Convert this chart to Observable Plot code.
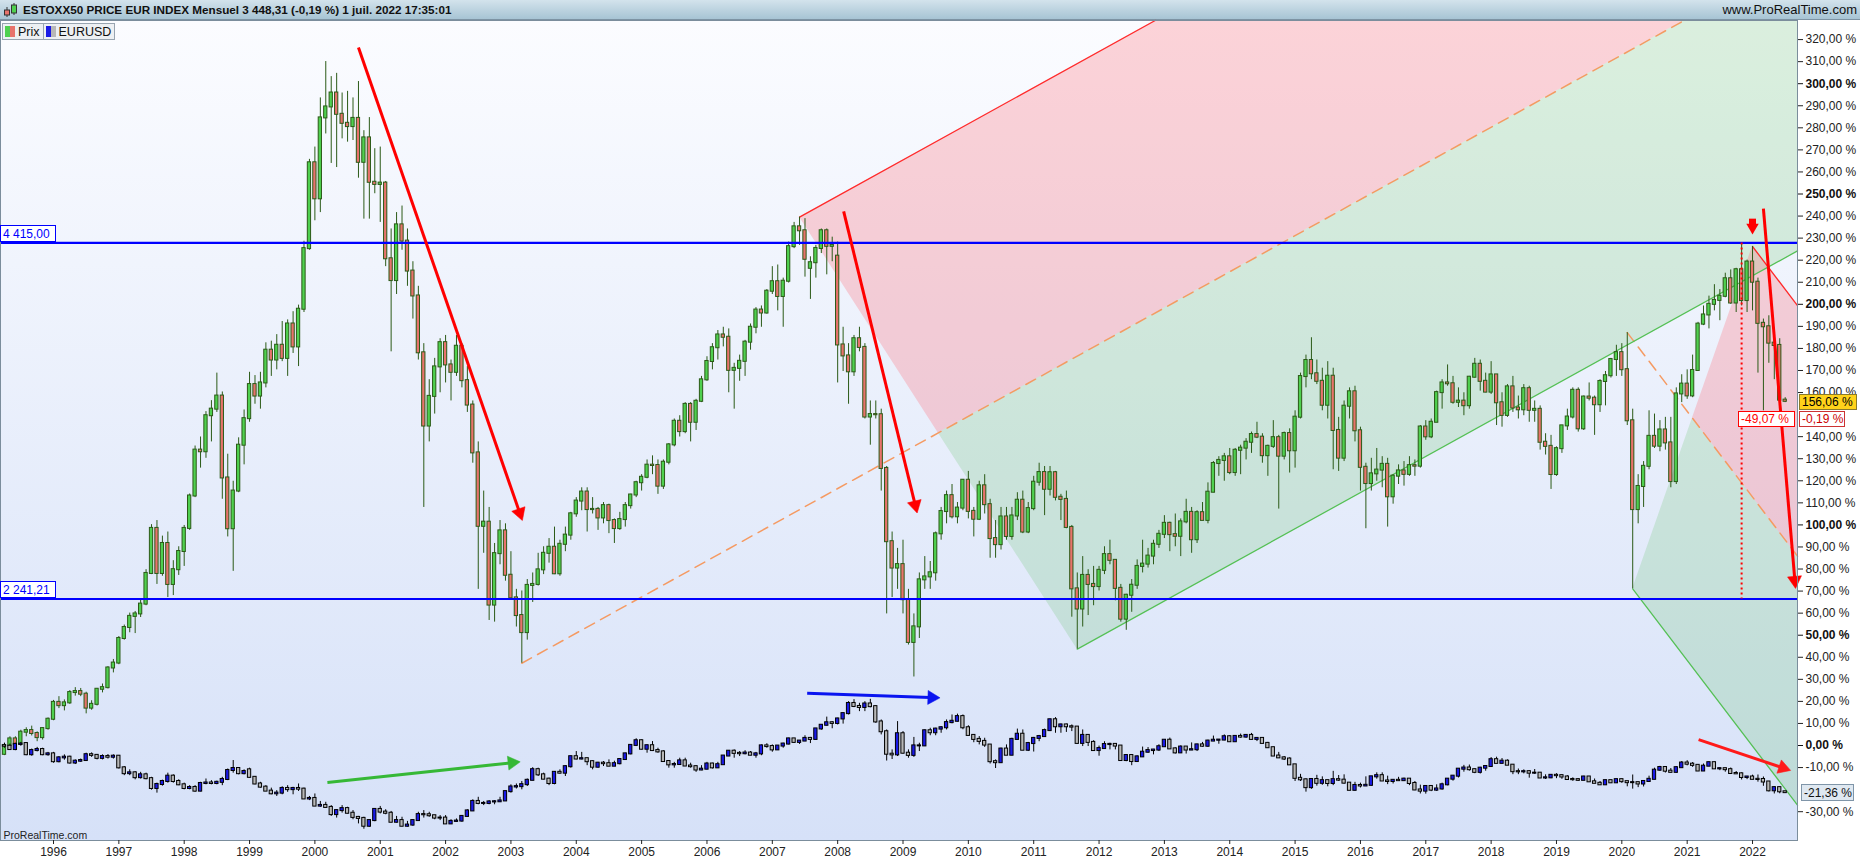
<!DOCTYPE html>
<html lang="fr">
<head>
<meta charset="utf-8">
<script src="https://cdn.jsdelivr.net/npm/d3@7"></script>
<script src="https://cdn.jsdelivr.net/npm/@observablehq/plot@0.6"></script>
<style>
html,body{margin:0;padding:0;background:#fff;}
body{width:1860px;height:860px;position:relative;overflow:hidden;font-family:"Liberation Sans",Arial,sans-serif;}
#header{position:absolute;left:0;top:0;width:1860px;height:20px;box-sizing:border-box;background:linear-gradient(#d3e3ec,#a7c4d4);border-bottom:1px solid #7d93a3;}
#header .title{position:absolute;left:23px;top:3px;font-size:11.7px;font-weight:bold;color:#111;white-space:nowrap;}
#header .site{position:absolute;right:3px;top:2px;font-size:13px;color:#111;}
#header svg{position:absolute;left:3px;top:2px;}
#plotbg{position:absolute;left:0;top:20px;width:1797px;height:820px;background:linear-gradient(#fbfcff,#d6e1f8);}
#chart{position:absolute;left:0;top:20px;}
#legend{position:absolute;left:2px;top:23px;display:flex;}
.lg{display:flex;align-items:center;height:15px;border:1px solid #98a4b0;background:#edf0f3;font-size:12.5px;color:#111;padding:0 3px 0 2px;margin-right:-1px;}
.lg i{display:inline-block;width:10px;height:11px;margin-right:3px;}
</style>
</head>
<body>
<div id="header">
  <svg width="16" height="16" viewBox="0 0 16 16">
    <line x1="4" y1="5" x2="4" y2="15" stroke="#333"/><rect x="1.5" y="8" width="5" height="5" fill="#e8736c" stroke="#333"/>
    <line x1="11" y1="1" x2="11" y2="13" stroke="#333"/><rect x="8.5" y="3" width="5" height="8" fill="#4fd04f" stroke="#333"/>
  </svg>
  <span class="title">ESTOXX50 PRICE EUR INDEX Mensuel 3 448,31 (-0,19 %) 1 juil. 2022 17:35:01</span>
  <span class="site">www.ProRealTime.com</span>
</div>
<div id="plotbg"></div>
<div id="chart"></div>
<div id="legend">
  <span class="lg"><i style="background:linear-gradient(90deg,#4fd04f 50%,#e8736c 50%)"></i>Prix</span>
  <span class="lg"><i style="background:linear-gradient(90deg,#1a1ae6 50%,#b8b8b8 50%)"></i>EURUSD</span>
</div>
<script>
// ---------- DATA ----------
// month index: 0 = January 1996; first bar = April 1995
const firstMonth = -9;
const basePrix = 1346.7;     // ESTOXX50 level shown as 0,00 %
const baseEURUSD = 1.3263;   // EURUSD level shown as 0,00 %

const esxOpen = [
1293,1347,1387,1354,1428,1438,1420,1395,1450,
1507,1610,1590,1607,1670,1676,1660,1575,1598,1690,1700,1820,
1850,2000,2067,2135,2150,2210,2397,2672,2397,2580,2330,2420,
2531,2672,2870,3150,3140,3360,3400,3480,2980,2670,2900,3180,
3342,3550,3480,3560,3760,3700,3790,3710,3920,3780,4010,4380,
4904,4684,5178,5245,5330,5200,5145,5125,5175,4907,5056,4785,
4772,4780,4318,4185,4525,4426,4243,4091,3744,3297,3478,3658,
3806,3670,3625,3784,3574,3425,3133,2685,2710,2204,2518,2657,
2386,2248,2140,2036,2324,2330,2419,2520,2557,2395,2575,2631,
2761,2839,2894,2787,2788,2736,2811,2720,2671,2726,2811,2876,
2951,2984,3058,3056,2930,3076,3182,3326,3263,3429,3320,3448,
3579,3691,3775,3853,3839,3637,3649,3692,3809,3900,4005,3987,
4120,4178,4088,4181,4392,4513,4489,4260,4294,4381,4489,4394,
4334,3792,3725,3628,3830,3777,3352,3367,3366,3038,2591,2430,
2451,2237,1976,2071,2358,2376,2401,2639,2775,2872,2743,2796,
2966,2776,2728,2932,2817,2610,2573,2742,2623,2748,2844,2650,
2793,2954,3013,2911,3012,2862,2849,2678,2303,2180,2385,2330,
2317,2416,2512,2477,2306,2118,2264,2325,2440,2454,2503,2575,
2636,2703,2634,2624,2712,2770,2603,2768,2721,2893,3068,3087,
3109,3013,3149,3162,3198,3245,3229,3116,3173,3226,3113,3251,
3146,3351,3599,3697,3616,3570,3424,3601,3270,3101,3418,3506,
3268,3045,2946,3005,3028,3063,2865,2991,3023,3002,3055,3052,
3291,3231,3320,3501,3560,3555,3442,3449,3421,3595,3674,3570,
3504,3609,3439,3362,3536,3407,3396,3525,3393,3399,3198,3173,
3001,3159,3298,3352,3515,3280,3474,3467,3427,3569,3604,3703,
3745,3641,3329,2787,2928,3051,3234,3174,3273,3194,2958,3493,
3553,3481,3636,3919,3975,4040,4064,4089,4196,4048,4251,4063,
4298,4175,3924,3903,3803,3789,3455
];
const esxHigh = [
1360,1400,1400,1440,1455,1465,1430,1455,1515,
1622,1645,1625,1682,1700,1695,1672,1620,1695,1722,1828,1872,
2012,2082,2155,2165,2232,2420,2695,2720,2625,2650,2475,2560,
2690,2882,3175,3230,3385,3452,3620,3505,3125,2960,3225,3395,
3625,3605,3625,3805,3815,3855,3935,3945,3995,4035,4425,4925,
5000,5300,5522,5430,5450,5330,5340,5300,5400,5100,5180,4990,
5000,4790,4500,4600,4640,4500,4300,4150,3800,3580,3710,3830,
3850,3700,3850,3800,3660,3450,3200,2900,2800,2580,2720,2700,
2530,2300,2290,2360,2400,2520,2560,2610,2680,2600,2680,2770,
2860,2920,2920,2860,2800,2830,2820,2730,2770,2830,2880,2960,
3000,3090,3115,3090,3090,3190,3340,3360,3440,3440,3460,3600,
3720,3800,3880,3900,3890,3680,3730,3820,3920,4020,4030,4130,
4270,4280,4200,4420,4540,4572,4563,4330,4400,4500,4500,4450,
4420,3900,3800,3850,3900,3800,3450,3450,3400,3050,2650,2550,
2600,2300,2150,2400,2500,2470,2650,2800,2900,2940,2830,2970,
3020,2800,2960,3000,2850,2720,2800,2800,2800,2890,2900,2830,
2990,3070,3050,3050,3020,2880,2900,2690,2400,2500,2420,2440,
2440,2560,2600,2480,2330,2270,2360,2480,2600,2550,2600,2660,
2750,2710,2760,2730,2850,2800,2780,2830,2950,3080,3110,3130,
3160,3160,3180,3220,3260,3320,3250,3180,3330,3240,3260,3280,
3390,3620,3730,3836,3700,3650,3690,3650,3350,3450,3530,3540,
3290,3070,3100,3160,3110,3100,3000,3060,3080,3110,3090,3300,
3330,3340,3510,3580,3670,3600,3530,3500,3600,3710,3700,3620,
3690,3610,3500,3550,3600,3480,3550,3540,3450,3420,3250,3240,
3170,3300,3400,3530,3530,3480,3560,3480,3580,3630,3710,3790,
3800,3867,3400,3000,3080,3390,3370,3330,3350,3350,3530,3610,
3640,3730,3930,4030,4090,4160,4130,4230,4250,4260,4415,4310,
4393,4200,3950,3970,3870,3830,3470
];
const esxLow = [
1285,1335,1335,1350,1400,1405,1370,1380,1440,
1498,1572,1558,1598,1648,1645,1540,1562,1588,1668,1692,1790,
1840,1990,2035,2030,2128,2200,2390,2330,2380,2250,2262,2385,
2440,2660,2860,3040,3100,3200,3380,2850,2620,2410,2890,3060,
3320,3430,3400,3530,3600,3640,3690,3600,3740,3660,3990,4370,
4550,4600,5080,4900,4875,5050,5030,5040,4810,4560,4560,4715,
4540,4270,3750,4100,4370,4150,3950,3700,2800,3200,3370,3500,
3560,3450,3600,3530,3380,3070,2300,2520,2110,2100,2450,2350,
2240,2070,1849,1990,2220,2320,2390,2460,2390,2380,2530,2600,
2740,2780,2650,2760,2660,2700,2640,2580,2660,2680,2790,2860,
2900,2975,3000,2880,2910,3060,3170,3230,3250,3200,3270,3440,
3570,3640,3700,3780,3500,3400,3570,3600,3760,3860,3900,3980,
4100,4000,3900,4170,4380,4400,4206,4070,4200,4350,4220,4300,
3560,3630,3430,3600,3750,3340,3180,3340,2900,2150,2250,2300,
2150,1960,1765,2000,2300,2300,2350,2600,2700,2730,2700,2780,
2730,2620,2720,2760,2490,2490,2540,2600,2600,2720,2640,2640,
2780,2930,2750,2870,2840,2720,2670,2130,1935,2070,2140,2200,
2290,2390,2450,2230,2100,2050,2160,2300,2400,2430,2450,2550,
2610,2530,2560,2500,2700,2520,2580,2720,2700,2890,2990,2960,
3000,2990,3000,3090,3130,3220,3070,2990,3160,2790,3090,3010,
3040,3340,3530,3580,3550,3390,3340,3030,3020,3080,3340,3200,
2900,2670,2900,2960,2920,2680,2820,2940,2930,2990,2990,3040,
3210,3220,3320,3400,3540,3430,3410,3360,3400,3590,3510,3500,
3490,3300,3290,3350,3380,3340,3360,3320,3320,3150,3120,2910,
2990,3130,3270,3340,3260,3270,3450,3240,3380,3420,3590,3600,
3600,3300,2303,2700,2800,3030,3160,3140,3150,2920,2940,3440,
3460,3470,3630,3910,3890,4000,3940,4080,4040,3990,4030,3990,
4000,3620,3390,3680,3580,3430,3440
];
const esxClose = [
1347,1387,1354,1428,1438,1420,1395,1450,1507,
1610,1590,1607,1670,1676,1660,1575,1598,1690,1700,1820,1850,
2000,2067,2135,2150,2210,2397,2672,2397,2580,2330,2420,2531,
2672,2870,3150,3140,3360,3400,3480,2980,2670,2900,3180,3342,
3550,3480,3560,3760,3700,3790,3710,3920,3780,4010,4380,4904,
4684,5178,5245,5330,5200,5145,5125,5175,4907,5056,4785,4772,
4780,4318,4185,4525,4426,4243,4091,3744,3297,3478,3658,3806,
3670,3625,3784,3574,3425,3133,2685,2710,2204,2518,2657,2386,
2248,2140,2036,2324,2330,2419,2520,2557,2395,2575,2631,2761,
2839,2894,2787,2788,2736,2811,2720,2671,2726,2811,2876,2951,
2984,3058,3056,2930,3076,3182,3326,3263,3429,3320,3448,3579,
3691,3775,3853,3839,3637,3649,3692,3809,3900,4005,3987,4120,
4178,4088,4181,4392,4513,4489,4315,4294,4381,4489,4394,4400,
3792,3725,3628,3830,3777,3352,3367,3366,3038,2591,2430,2451,
2237,1976,2071,2358,2376,2401,2639,2775,2872,2743,2796,2966,
2776,2728,2932,2817,2610,2573,2742,2623,2748,2844,2650,2793,
2954,3013,2911,3012,2862,2849,2678,2303,2180,2385,2330,2317,
2416,2512,2477,2306,2118,2264,2325,2440,2454,2503,2575,2636,
2703,2634,2624,2712,2770,2603,2768,2721,2893,3068,3087,3109,
3013,3149,3162,3198,3245,3229,3116,3173,3226,3113,3251,3146,
3351,3599,3697,3616,3570,3424,3601,3270,3101,3418,3506,3268,
3045,2946,3005,3028,3063,2865,2991,3023,3002,3055,3052,3291,
3231,3320,3501,3560,3555,3442,3449,3421,3595,3674,3570,3504,
3609,3439,3362,3536,3407,3396,3525,3393,3399,3198,3173,3001,
3159,3298,3352,3515,3280,3474,3467,3427,3569,3604,3703,3745,
3641,3329,2787,2928,3051,3234,3174,3273,3194,2958,3493,3553,
3481,3636,3919,3975,4040,4064,4089,4196,4048,4251,4063,4298,
4175,3924,3903,3803,3789,3455,3448
];

const eurOpen = [
1.325,1.322,1.302,1.333,1.338,1.271,1.296,1.302,1.271,
1.276,1.229,1.252,1.256,1.221,1.232,1.236,1.271,1.267,1.249,1.260,1.256,
1.262,1.192,1.157,1.162,1.133,1.150,1.127,1.068,1.092,1.110,1.142,1.110,
1.090,1.068,1.074,1.052,1.098,1.101,1.098,1.105,1.122,1.176,1.188,1.157,
1.180,1.135,1.095,1.076,1.052,1.036,1.040,1.068,1.061,1.068,1.064,1.005,
1.008,0.962,0.966,0.954,0.911,0.935,0.947,0.919,0.894,0.888,0.841,0.875,
0.942,0.926,0.919,0.865,0.875,0.841,0.848,0.875,0.911,0.910,0.904,0.890,
0.890,0.855,0.870,0.872,0.900,0.933,0.990,0.978,0.978,0.987,0.988,0.993,
1.049,1.077,1.079,1.091,1.117,1.181,1.150,1.124,1.098,1.165,1.160,1.199,
1.259,1.245,1.247,1.229,1.196,1.220,1.217,1.202,1.217,1.242,1.276,1.327,
1.355,1.304,1.325,1.296,1.288,1.230,1.210,1.212,1.234,1.203,1.199,1.179,
1.184,1.215,1.192,1.211,1.263,1.292,1.279,1.277,1.281,1.268,1.276,1.324,
1.320,1.300,1.323,1.335,1.366,1.345,1.353,1.369,1.363,1.426,1.448,1.463,
1.459,1.486,1.518,1.579,1.561,1.555,1.576,1.560,1.468,1.409,1.274,1.270,
1.397,1.280,1.267,1.324,1.324,1.415,1.403,1.425,1.433,1.464,1.472,1.500,
1.433,1.387,1.363,1.351,1.329,1.229,1.223,1.305,1.268,1.363,1.394,1.298,
1.338,1.369,1.380,1.416,1.481,1.439,1.450,1.439,1.437,1.339,1.387,1.345,
1.296,1.308,1.332,1.333,1.323,1.236,1.266,1.230,1.258,1.286,1.296,1.299,
1.319,1.358,1.306,1.282,1.317,1.299,1.301,1.330,1.322,1.353,1.358,1.359,
1.379,1.349,1.381,1.377,1.387,1.363,1.369,1.339,1.313,1.263,1.252,1.245,
1.210,1.129,1.120,1.073,1.122,1.099,1.115,1.098,1.121,1.118,1.100,1.057,
1.086,1.083,1.087,1.138,1.145,1.113,1.110,1.117,1.115,1.124,1.098,1.059,
1.052,1.080,1.058,1.065,1.090,1.124,1.142,1.184,1.191,1.181,1.165,1.190,
1.200,1.241,1.219,1.232,1.208,1.169,1.168,1.169,1.160,1.160,1.131,1.132,
1.147,1.145,1.137,1.122,1.121,1.117,1.137,1.108,1.099,1.090,1.115,1.102,
1.121,1.109,1.103,1.103,1.095,1.110,1.123,1.178,1.194,1.172,1.165,1.193,
1.221,1.214,1.207,1.173,1.202,1.223,1.186,1.187,1.181,1.158,1.156,1.134,
1.137,1.123,1.122,1.107,1.054,1.073,1.048
];
const eurHigh = [
1.340,1.335,1.340,1.345,1.342,1.305,1.315,1.310,1.285,
1.285,1.260,1.270,1.262,1.240,1.245,1.280,1.282,1.272,1.270,1.272,1.270,
1.266,1.200,1.180,1.170,1.165,1.160,1.135,1.100,1.118,1.160,1.150,1.120,
1.100,1.085,1.085,1.105,1.125,1.115,1.112,1.135,1.185,1.236,1.192,1.180,
1.190,1.140,1.105,1.085,1.070,1.055,1.078,1.085,1.075,1.095,1.070,1.020,
1.035,0.990,0.985,0.965,0.940,0.965,0.955,0.935,0.900,0.895,0.880,0.945,
0.960,0.940,0.930,0.900,0.895,0.870,0.880,0.925,0.935,0.925,0.905,0.905,
0.905,0.880,0.885,0.905,0.940,1.000,1.015,0.990,0.995,0.995,1.015,1.050,
1.090,1.095,1.110,1.125,1.193,1.190,1.160,1.130,1.170,1.180,1.205,1.262,
1.290,1.285,1.250,1.235,1.225,1.230,1.240,1.232,1.245,1.280,1.330,1.367,
1.360,1.330,1.350,1.310,1.295,1.235,1.225,1.250,1.250,1.220,1.205,1.205,
1.225,1.220,1.225,1.265,1.295,1.300,1.290,1.295,1.290,1.285,1.330,1.337,
1.330,1.325,1.340,1.370,1.368,1.355,1.385,1.375,1.427,1.450,1.497,1.470,
1.490,1.520,1.590,1.602,1.580,1.590,1.604,1.565,1.480,1.420,1.300,1.470,
1.410,1.300,1.375,1.340,1.420,1.430,1.430,1.440,1.480,1.510,1.515,1.510,
1.445,1.390,1.380,1.370,1.330,1.240,1.310,1.330,1.370,1.425,1.420,1.345,
1.375,1.387,1.425,1.485,1.494,1.455,1.455,1.450,1.440,1.420,1.390,1.355,
1.323,1.349,1.340,1.338,1.325,1.270,1.268,1.264,1.317,1.314,1.303,1.331,
1.362,1.371,1.313,1.324,1.320,1.342,1.334,1.345,1.358,1.383,1.361,1.390,
1.385,1.384,1.395,1.392,1.399,1.372,1.370,1.345,1.316,1.285,1.260,1.252,
1.212,1.153,1.125,1.125,1.147,1.138,1.115,1.171,1.146,1.150,1.103,1.105,
1.100,1.138,1.140,1.162,1.162,1.142,1.120,1.135,1.130,1.125,1.110,1.088,
1.082,1.083,1.090,1.100,1.126,1.145,1.185,1.207,1.209,1.185,1.195,1.204,
1.254,1.256,1.248,1.240,1.210,1.185,1.180,1.175,1.182,1.164,1.150,1.150,
1.157,1.149,1.145,1.132,1.127,1.141,1.140,1.125,1.110,1.118,1.115,1.124,
1.124,1.110,1.149,1.105,1.114,1.142,1.190,1.201,1.197,1.188,1.200,1.230,
1.235,1.224,1.211,1.215,1.227,1.227,1.191,1.190,1.191,1.170,1.162,1.138,
1.148,1.149,1.137,1.108,1.079,1.077,1.049
];
const eurLow = [
1.310,1.298,1.295,1.322,1.265,1.262,1.288,1.265,1.262,
1.220,1.222,1.238,1.215,1.212,1.225,1.230,1.255,1.240,1.240,1.245,1.245,
1.185,1.145,1.145,1.120,1.125,1.120,1.058,1.040,1.082,1.100,1.100,1.085,
1.060,1.060,1.045,1.048,1.090,1.090,1.090,1.085,1.115,1.160,1.150,1.150,
1.130,1.090,1.070,1.050,1.030,1.020,1.030,1.045,1.030,1.050,1.003,0.995,
0.960,0.955,0.953,0.900,0.890,0.920,0.915,0.880,0.855,0.823,0.835,0.868,
0.915,0.910,0.862,0.860,0.838,0.836,0.840,0.870,0.890,0.895,0.880,0.875,
0.852,0.852,0.865,0.865,0.895,0.930,0.970,0.965,0.970,0.970,0.985,0.990,
1.040,1.065,1.060,1.080,1.115,1.140,1.120,1.085,1.090,1.155,1.140,1.190,
1.240,1.240,1.205,1.180,1.190,1.200,1.200,1.200,1.210,1.240,1.270,1.320,
1.300,1.280,1.290,1.280,1.228,1.190,1.190,1.210,1.200,1.190,1.165,1.175,
1.180,1.185,1.190,1.210,1.260,1.250,1.260,1.270,1.265,1.250,1.265,1.310,
1.286,1.297,1.310,1.330,1.340,1.333,1.351,1.338,1.360,1.418,1.444,1.427,
1.450,1.455,1.510,1.554,1.530,1.530,1.553,1.460,1.390,1.233,1.242,1.260,
1.275,1.250,1.255,1.290,1.320,1.385,1.385,1.400,1.420,1.457,1.468,1.421,
1.386,1.343,1.330,1.315,1.215,1.188,1.220,1.266,1.265,1.360,1.296,1.290,
1.287,1.349,1.379,1.410,1.400,1.400,1.405,1.410,1.335,1.320,1.320,1.293,
1.262,1.307,1.300,1.300,1.235,1.229,1.205,1.228,1.256,1.280,1.270,1.290,
1.317,1.305,1.275,1.278,1.275,1.296,1.290,1.316,1.315,1.350,1.334,1.355,
1.348,1.347,1.370,1.370,1.360,1.350,1.337,1.310,1.260,1.250,1.236,1.208,
1.110,1.110,1.046,1.063,1.082,1.087,1.078,1.085,1.110,1.094,1.055,1.052,
1.071,1.081,1.082,1.124,1.110,1.091,1.095,1.111,1.112,1.085,1.055,1.035,
1.034,1.049,1.050,1.058,1.084,1.112,1.131,1.166,1.172,1.157,1.155,1.172,
1.195,1.217,1.216,1.207,1.151,1.151,1.156,1.130,1.152,1.130,1.122,1.127,
1.127,1.123,1.118,1.111,1.111,1.116,1.105,1.097,1.088,1.089,1.098,1.098,
1.099,1.078,1.064,1.073,1.077,1.108,1.121,1.171,1.161,1.162,1.160,1.192,
1.204,1.195,1.170,1.170,1.199,1.184,1.175,1.166,1.156,1.152,1.119,1.121,
1.121,1.106,1.081,1.047,1.035,1.036,1.040
];
const eurClose = [
1.322,1.302,1.333,1.335,1.271,1.296,1.302,1.271,1.276,
1.229,1.252,1.256,1.221,1.232,1.236,1.271,1.267,1.249,1.260,1.256,1.262,
1.192,1.157,1.162,1.133,1.150,1.127,1.068,1.092,1.110,1.142,1.110,1.090,
1.068,1.074,1.052,1.098,1.101,1.098,1.105,1.122,1.176,1.188,1.157,1.170,
1.135,1.095,1.076,1.052,1.036,1.040,1.068,1.061,1.068,1.064,1.005,1.008,
0.962,0.966,0.954,0.911,0.935,0.947,0.919,0.894,0.888,0.841,0.875,0.942,
0.926,0.919,0.865,0.875,0.841,0.848,0.875,0.911,0.910,0.904,0.890,0.890,
0.855,0.870,0.872,0.900,0.933,0.990,0.978,0.978,0.987,0.988,0.993,1.049,
1.077,1.079,1.091,1.117,1.181,1.150,1.124,1.098,1.165,1.160,1.199,1.259,
1.245,1.247,1.229,1.196,1.220,1.217,1.202,1.217,1.242,1.276,1.327,1.355,
1.304,1.325,1.296,1.288,1.230,1.210,1.212,1.234,1.203,1.199,1.179,1.184,
1.215,1.192,1.211,1.263,1.292,1.279,1.277,1.281,1.268,1.276,1.324,1.320,
1.300,1.323,1.335,1.366,1.345,1.353,1.369,1.363,1.426,1.448,1.463,1.459,
1.486,1.518,1.579,1.561,1.555,1.576,1.560,1.468,1.409,1.274,1.270,1.397,
1.280,1.267,1.324,1.324,1.415,1.403,1.425,1.433,1.464,1.472,1.500,1.433,
1.387,1.363,1.351,1.329,1.229,1.223,1.305,1.268,1.363,1.394,1.298,1.338,
1.369,1.380,1.416,1.481,1.439,1.450,1.439,1.437,1.339,1.387,1.345,1.296,
1.308,1.332,1.333,1.323,1.236,1.266,1.230,1.258,1.286,1.296,1.299,1.319,
1.358,1.306,1.282,1.317,1.299,1.301,1.330,1.322,1.353,1.358,1.359,1.379,
1.349,1.381,1.377,1.387,1.363,1.369,1.339,1.313,1.263,1.252,1.245,1.210,
1.129,1.120,1.073,1.122,1.099,1.115,1.098,1.121,1.118,1.100,1.057,1.086,
1.083,1.087,1.138,1.145,1.113,1.110,1.117,1.115,1.124,1.098,1.059,1.052,
1.080,1.058,1.065,1.090,1.124,1.142,1.184,1.191,1.181,1.165,1.190,1.200,
1.241,1.219,1.232,1.208,1.169,1.168,1.169,1.160,1.160,1.131,1.132,1.147,
1.145,1.137,1.122,1.121,1.117,1.137,1.108,1.099,1.090,1.115,1.102,1.121,
1.109,1.103,1.103,1.095,1.110,1.123,1.178,1.194,1.172,1.165,1.193,1.221,
1.214,1.207,1.173,1.202,1.223,1.186,1.187,1.181,1.158,1.156,1.134,1.137,
1.123,1.122,1.107,1.054,1.073,1.048,1.043
];

// horizontal support / resistance levels (index points)
const levels = [4415.00, 2241.21];
const levelLabels = ["4 415,00", "2 241,21"];

// parallel channels: anchors [month index, index points], slope in % per month
const channel1 = {top: [137, 4572], median: [86, 1849], bottom: [188, 1935], slope: 1.365};
const channel2 = {top: [312, 4393], median: [289, 3867], bottom: [290, 2303], slope: -3.24};

// vertical dotted measure (Nov 2021) between the two levels
const measureMonth = 310;

// hand-drawn arrows [month, %] -> [month, %]
const arrows = [
  {m1: 56.0,  p1: 316.4, m2: 86.1,  p2: 102.0, color: "#ff0000"},
  {m1: 145.1, p1: 242.1, m2: 158.6, p2: 105.4, color: "#ff0000"},
  {m1: 138.4, p1: 23.7,  m2: 162.8, p2: 21.6,  color: "#0a14f0"},
  {m1: 50.3,  p1: -16.8, m2: 85.7,  p2: -7.4,  color: "#36b836"},
  {m1: 302.1, p1: 2.7,   m2: 319.0, p2: -11.3, color: "#ff1a1a"},
  {m1: 314.0, p1: 243.4, m2: 319.9, p2: 71.2,  color: "#ff0000"}
];
const downArrow = {m: 312, top: 238.6, tip: 231.6};

// axis (labels hidden under the value tags are left out, as in the original)
const pctTicks = d3.range(-30, 321, 10).filter(d => d !== 150 && d !== -20);
const yearTicks = d3.range(0, 313, 12);
const xDomain = [-9.733, 320.26];
const yDomain = [-43.06, 328.65];

// value tags on the right scale
const lastPrix = {value: 156.06, text: "156,06 %"};
const lastVar = {text: "-0,19 %"};
const measureTag = {text: "-49,07 %"};
const lastEur = {value: -21.36, text: "-21,36 %"};

// ---------- BUILD ----------
[esxOpen, esxHigh, esxLow, eurOpen, eurHigh, eurLow, eurClose].forEach((a, k) => {
  if (a.length !== esxClose.length) throw new Error("length mismatch " + k + ": " + a.length + " vs " + esxClose.length);
});
const pctP = v => (v / basePrix - 1) * 100;
const pctE = v => (v / baseEURUSD - 1) * 100;
const prix = esxClose.map((c, i) => ({m: firstMonth + i, o: pctP(esxOpen[i]), h: pctP(esxHigh[i]), l: pctP(esxLow[i]), c: pctP(c)}));
const eur = eurClose.map((c, i) => ({m: firstMonth + i, o: pctE(eurOpen[i]), h: pctE(eurHigh[i]), l: pctE(eurLow[i]), c: pctE(c)}));

const X1 = xDomain[1], YMAX = yDomain[1];
function geom(ch) {
  const s = ch.slope;
  const A = [ch.top[0], pctP(ch.top[1])], M = [ch.median[0], pctP(ch.median[1])], B = [ch.bottom[0], pctP(ch.bottom[1])];
  const ln = P => m => P[1] + s * (m - P[0]);
  const red = ln(A), mid = ln(M), grn = ln(B);
  const dk = (B[1] - A[1]) / (B[0] - A[0]);
  const dm = (A[1] - dk * A[0] - M[1] + s * M[0]) / (s - dk);
  const D = [dm, mid(dm)];
  return {A, M, B, D, red, mid, grn, s};
}
const g1 = geom(channel1), g2 = geom(channel2);
const mR1 = g1.A[0] + (YMAX - g1.A[1]) / g1.s;
const mM1 = g1.M[0] + (YMAX - g1.M[1]) / g1.s;
const pink1 = [
  {m: g1.A[0], lo: g1.A[1], hi: g1.A[1]},
  {m: g1.D[0], lo: g1.D[1], hi: g1.red(g1.D[0])},
  {m: mR1, lo: g1.mid(mR1), hi: YMAX},
  {m: mM1, lo: YMAX, hi: YMAX}
];
const green1 = [
  {m: g1.D[0], lo: g1.D[1], hi: g1.D[1]},
  {m: g1.B[0], lo: g1.B[1], hi: g1.mid(g1.B[0])},
  {m: mM1, lo: g1.grn(mM1), hi: YMAX},
  {m: X1, lo: g1.grn(X1), hi: YMAX}
];
const pink2 = [
  {m: g2.D[0], lo: g2.D[1], hi: g2.D[1]},
  {m: g2.A[0], lo: g2.mid(g2.A[0]), hi: g2.A[1]},
  {m: X1, lo: g2.mid(X1), hi: g2.red(X1)}
];
const green2 = [
  {m: g2.B[0], lo: g2.B[1], hi: g2.B[1]},
  {m: g2.D[0], lo: g2.grn(g2.D[0]), hi: g2.D[1]},
  {m: X1, lo: g2.grn(X1), hi: g2.mid(X1)}
];
const redLines = [
  [{m: g1.A[0], p: g1.A[1]}, {m: mR1, p: YMAX}],
  [{m: g2.A[0], p: g2.A[1]}, {m: X1, p: g2.red(X1)}]
];
const midLines = [
  [{m: g1.M[0], p: g1.M[1]}, {m: mM1, p: YMAX}],
  [{m: g2.M[0], p: g2.M[1]}, {m: X1, p: g2.mid(X1)}]
];
const grnLines = [
  [{m: g1.B[0], p: g1.B[1]}, {m: X1, p: g1.grn(X1)}],
  [{m: g2.B[0], p: g2.B[1]}, {m: X1, p: g2.grn(X1)}]
];

const layout = {
  width: 1860, height: 840,
  marginTop: 0, marginLeft: 0, marginRight: 63, marginBottom: 20,
  x: {type: "linear", domain: xDomain},
  y: {type: "linear", domain: yDomain},
  style: {fontFamily: '"Liberation Sans", Arial, sans-serif', fontSize: "12px", background: "transparent", overflow: "visible"}
};
const probe = Plot.plot({...layout, marks: [Plot.frame()]});
const sx = probe.scale("x"), sy = probe.scale("y");

// arrow heads (triangle symbols oriented along each arrow)
const HR = 5.2;
const heads = [], shafts = [];
for (const a of arrows) {
  const x1 = sx.apply(a.m1), y1 = sy.apply(a.p1), x2 = sx.apply(a.m2), y2 = sy.apply(a.p2);
  const L = Math.hypot(x2 - x1, y2 - y1), ux = (x2 - x1) / L, uy = (y2 - y1) / L;
  const cx = x2 - ux * 1.555 * HR, cy = y2 - uy * 1.555 * HR;
  const ex = x2 - ux * 1.9 * HR, ey = y2 - uy * 1.9 * HR;
  heads.push({m: sx.invert(cx), p: sy.invert(cy), rot: Math.atan2(ux, -uy) * 180 / Math.PI, color: a.color});
  shafts.push({m1: a.m1, p1: a.p1, m2: sx.invert(ex), p2: sy.invert(ey), color: a.color});
}
const DR = 4.6;
const dTipY = sy.apply(downArrow.tip);
const downHead = {m: downArrow.m, p: sy.invert(dTipY - 1.555 * DR)};
const downShaftEnd = sy.invert(dTipY - 2.2 * DR);

function candles(rows, up, down, line) {
  return [
    Plot.ruleX(rows, {x: "m", y1: d => Math.min(d.l, d.o, d.c), y2: d => Math.max(d.h, d.o, d.c), stroke: line, strokeWidth: 1}),
    Plot.rect(rows, {x1: d => d.m - 0.3, x2: d => d.m + 0.3, y1: d => Math.min(d.o, d.c), y2: d => Math.max(d.o, d.c),
      insetTop: -0.5, insetBottom: -0.5,
      fill: d => d.c >= d.o ? up : down, stroke: line, strokeWidth: 1})
  ];
}
const fmtPct = d => d.toFixed(2).replace(".", ",") + " %";

const chart = Plot.plot({
  ...layout,
  marks: [
    Plot.areaY(green1, {x: "m", y1: "lo", y2: "hi", fill: "rgb(90,190,90)", fillOpacity: 0.2}),
    Plot.areaY(pink1, {x: "m", y1: "lo", y2: "hi", fill: "rgb(255,100,110)", fillOpacity: 0.27}),
    Plot.areaY(green2, {x: "m", y1: "lo", y2: "hi", fill: "rgb(90,190,90)", fillOpacity: 0.2}),
    Plot.areaY(pink2, {x: "m", y1: "lo", y2: "hi", fill: "rgb(255,100,110)", fillOpacity: 0.27}),
    ...midLines.map(l => Plot.line(l, {x: "m", y: "p", stroke: "#f59a62", strokeWidth: 1.5, strokeDasharray: "11,7"})),
    ...redLines.map(l => Plot.line(l, {x: "m", y: "p", stroke: "#ff2a2a", strokeWidth: 1.3})),
    ...grnLines.map(l => Plot.line(l, {x: "m", y: "p", stroke: "#55c055", strokeWidth: 1.3})),
    ...candles(prix, "#4fd04f", "#e8736c", "#2b5a17"),
    ...candles(eur, "#1a1ae6", "#b8b8b8", "#000000"),
    Plot.ruleY(levels.map(pctP), {stroke: "#0000ff", strokeWidth: 2.2}),
    Plot.ruleX([measureMonth], {y1: pctP(levels[0]), y2: pctP(levels[1]), stroke: "#ff0000", strokeWidth: 2, strokeDasharray: "2,3"}),
    Plot.link(shafts, {x1: "m1", y1: "p1", x2: "m2", y2: "p2", stroke: "color", strokeWidth: 3}),
    Plot.dot(heads, {x: "m", y: "p", symbol: "triangle", r: HR, rotate: "rot", fill: "color", stroke: "color", strokeWidth: 0.5}),
    Plot.ruleX([downArrow], {x: "m", y1: "top", y2: () => downShaftEnd, stroke: "#ff0000", strokeWidth: 7}),
    Plot.dot([downHead], {x: "m", y: "p", symbol: "triangle", r: DR, rotate: 180, fill: "#ff0000"}),
    Plot.text(["ProRealTime.com"], {frameAnchor: "bottom-left", textAnchor: "start", lineAnchor: "bottom", dx: 3, dy: -2, fontSize: 10.5, fill: "#222"}),
    Plot.frame({stroke: "#7b8d9c"}),
    Plot.axisY({anchor: "right", ticks: pctTicks.filter(d => d % 50 !== 0), tickFormat: fmtPct, tickSize: 5, tickPadding: 3, fontSize: 12, color: "#222", label: null}),
    Plot.axisY({anchor: "right", ticks: pctTicks.filter(d => d % 50 === 0), tickFormat: fmtPct, tickSize: 5, tickPadding: 3, fontSize: 12, fontWeight: "bold", color: "#111", label: null}),
    Plot.axisX({ticks: yearTicks, tickFormat: d => String(1996 + Math.round(d / 12)), tickSize: 4, tickPadding: 3, fontSize: 12, color: "#222", label: null})
  ]
});
document.getElementById("chart").appendChild(chart);

// ---------- value tags (positioned with the plot's scales) ----------
const cx = chart.scale("x"), cy = chart.scale("y");
const tags = d3.select(chart).append("g")
  .attr("font-family", '"Liberation Sans", Arial, sans-serif')
  .attr("font-size", 12)
  .attr("text-anchor", "start");
function tag(x, yc, w, h, text, o) {
  const g = tags.append("g");
  const top = Math.round(yc - h / 2) + 0.5;
  g.append("rect").attr("x", x + 0.5).attr("y", top).attr("width", w).attr("height", h)
    .attr("fill", o.fill).attr("stroke", o.stroke).attr("stroke-width", 1);
  g.append("text").attr("x", x + 3).attr("y", top + h - 3.5).attr("fill", o.color).attr("text-anchor", "start").text(text);
}
const right = cx.apply(xDomain[1]);
levels.forEach((v, i) => {
  const y = cy.apply(pctP(v));
  tag(0, y - 9.5, 55, 16, levelLabels[i], {fill: "#ffffff", stroke: "#0000ff", color: "#0000ff"});
});
const yP = cy.apply(lastPrix.value);
tag(right + 2, yP + 1, 57, 15, lastPrix.text, {fill: "#ffd21a", stroke: "#8a7a2a", color: "#000"});
tag(right + 2, yP + 18, 45, 15, lastVar.text, {fill: "#ffffff", stroke: "#cc3333", color: "#cc0000"});
tag(right - 59, yP + 18, 56, 15, measureTag.text, {fill: "#ffffff", stroke: "#ff0000", color: "#ff0000"});
tag(right + 4, cy.apply(lastEur.value), 52, 16, lastEur.text, {fill: "#dfe8f1", stroke: "#7f95a8", color: "#111"});
</script>
</body>
</html>
